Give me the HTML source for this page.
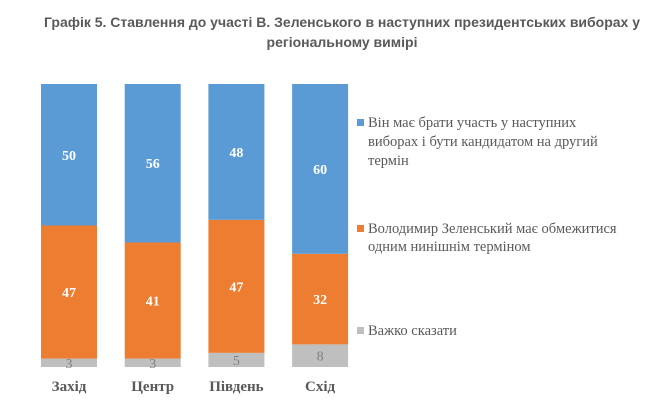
<!DOCTYPE html>
<html><head><meta charset="utf-8"><style>
body{margin:0;background:#fff}
svg{display:block}
</style></head><body>
<svg id="c" width="662" height="416" xmlns="http://www.w3.org/2000/svg">
<text x="342" y="27" text-anchor="middle" textLength="596" lengthAdjust="spacingAndGlyphs" font-family="Liberation Sans, sans-serif" font-weight="bold" font-size="14" fill="#595959">Графік 5. Ставлення до участі В. Зеленського в наступних президентських виборах у</text>
<text x="342" y="47" text-anchor="middle" font-family="Liberation Sans, sans-serif" font-weight="bold" font-size="14" fill="#595959">регіональному вимірі</text>
<g id="bars"></g>
<g font-family="Liberation Serif, serif" font-size="14.5" fill="#595959">
<rect x="357" y="119" width="7" height="7" fill="#5b9bd5"/>
<text x="368" y="127"><tspan x="368">Він має брати участь у наступних</tspan><tspan x="368" dy="19">виборах і бути кандидатом на другий</tspan><tspan x="368" dy="19">термін</tspan></text>
<rect x="357" y="225" width="7" height="7" fill="#ed7d31"/>
<text x="368" y="233"><tspan x="368">Володимир Зеленський має обмежитися</tspan><tspan x="368" dy="18">одним нинішнім терміном</tspan></text>
<rect x="357" y="327" width="7" height="7" fill="#bfbfbf"/>
<text x="368" y="335">Важко сказати</text>
</g>
</svg>
<script>
const categories=["Захід","Центр","Південь","Схід"];
const hardToSay=[3,3,5,8];
const oneTerm=[47,41,47,32];
const support=[50,56,48,60];
const NS="http://www.w3.org/2000/svg";
const g=document.getElementById('bars');
const y0=367,scale=283/100,bx0=41,step=83.7,bw=56;
function yPos(v){return y0-v*scale;}
function xPos(i){return bx0+i*step;}
const series=[[hardToSay,"#bfbfbf","#7f7f7f","hard-to-say"],[oneTerm,"#ed7d31","#fff","one-term"],[support,"#5b9bd5","#fff","support"]];
categories.forEach((c,i)=>{
  let cum=0;
  series.forEach(([arr,col,tc,nm])=>{
    const v=arr[i];
    const r=document.createElementNS(NS,'rect');
    r.setAttribute('x',xPos(i));r.setAttribute('width',bw);
    r.setAttribute('y',yPos(cum+v));r.setAttribute('height',v*scale);
    r.setAttribute('fill',col);
    
    
    g.appendChild(r);
    const t=document.createElementNS(NS,'text');
    t.setAttribute('x',xPos(i)+bw/2);
    t.setAttribute('y',yPos(cum+v/2)+5);
    t.setAttribute('text-anchor','middle');
    t.setAttribute('font-family','Liberation Serif, serif');
    t.setAttribute('font-size','14');
    if(nm!=='hard-to-say')t.setAttribute('font-weight','bold');
    t.setAttribute('fill',tc);
    t.textContent=v;
    
    
    g.appendChild(t);
    cum+=v;
  });
  const l=document.createElementNS(NS,'text');
  l.setAttribute('x',xPos(i)+bw/2);l.setAttribute('y',391);
  l.setAttribute('text-anchor','middle');
  l.setAttribute('font-family','Liberation Serif, serif');
  l.setAttribute('font-size','15');l.setAttribute('font-weight','bold');
  l.setAttribute('fill','#595959');
  l.textContent=c;
  
  
  g.appendChild(l);
});
</script>
</body></html>
